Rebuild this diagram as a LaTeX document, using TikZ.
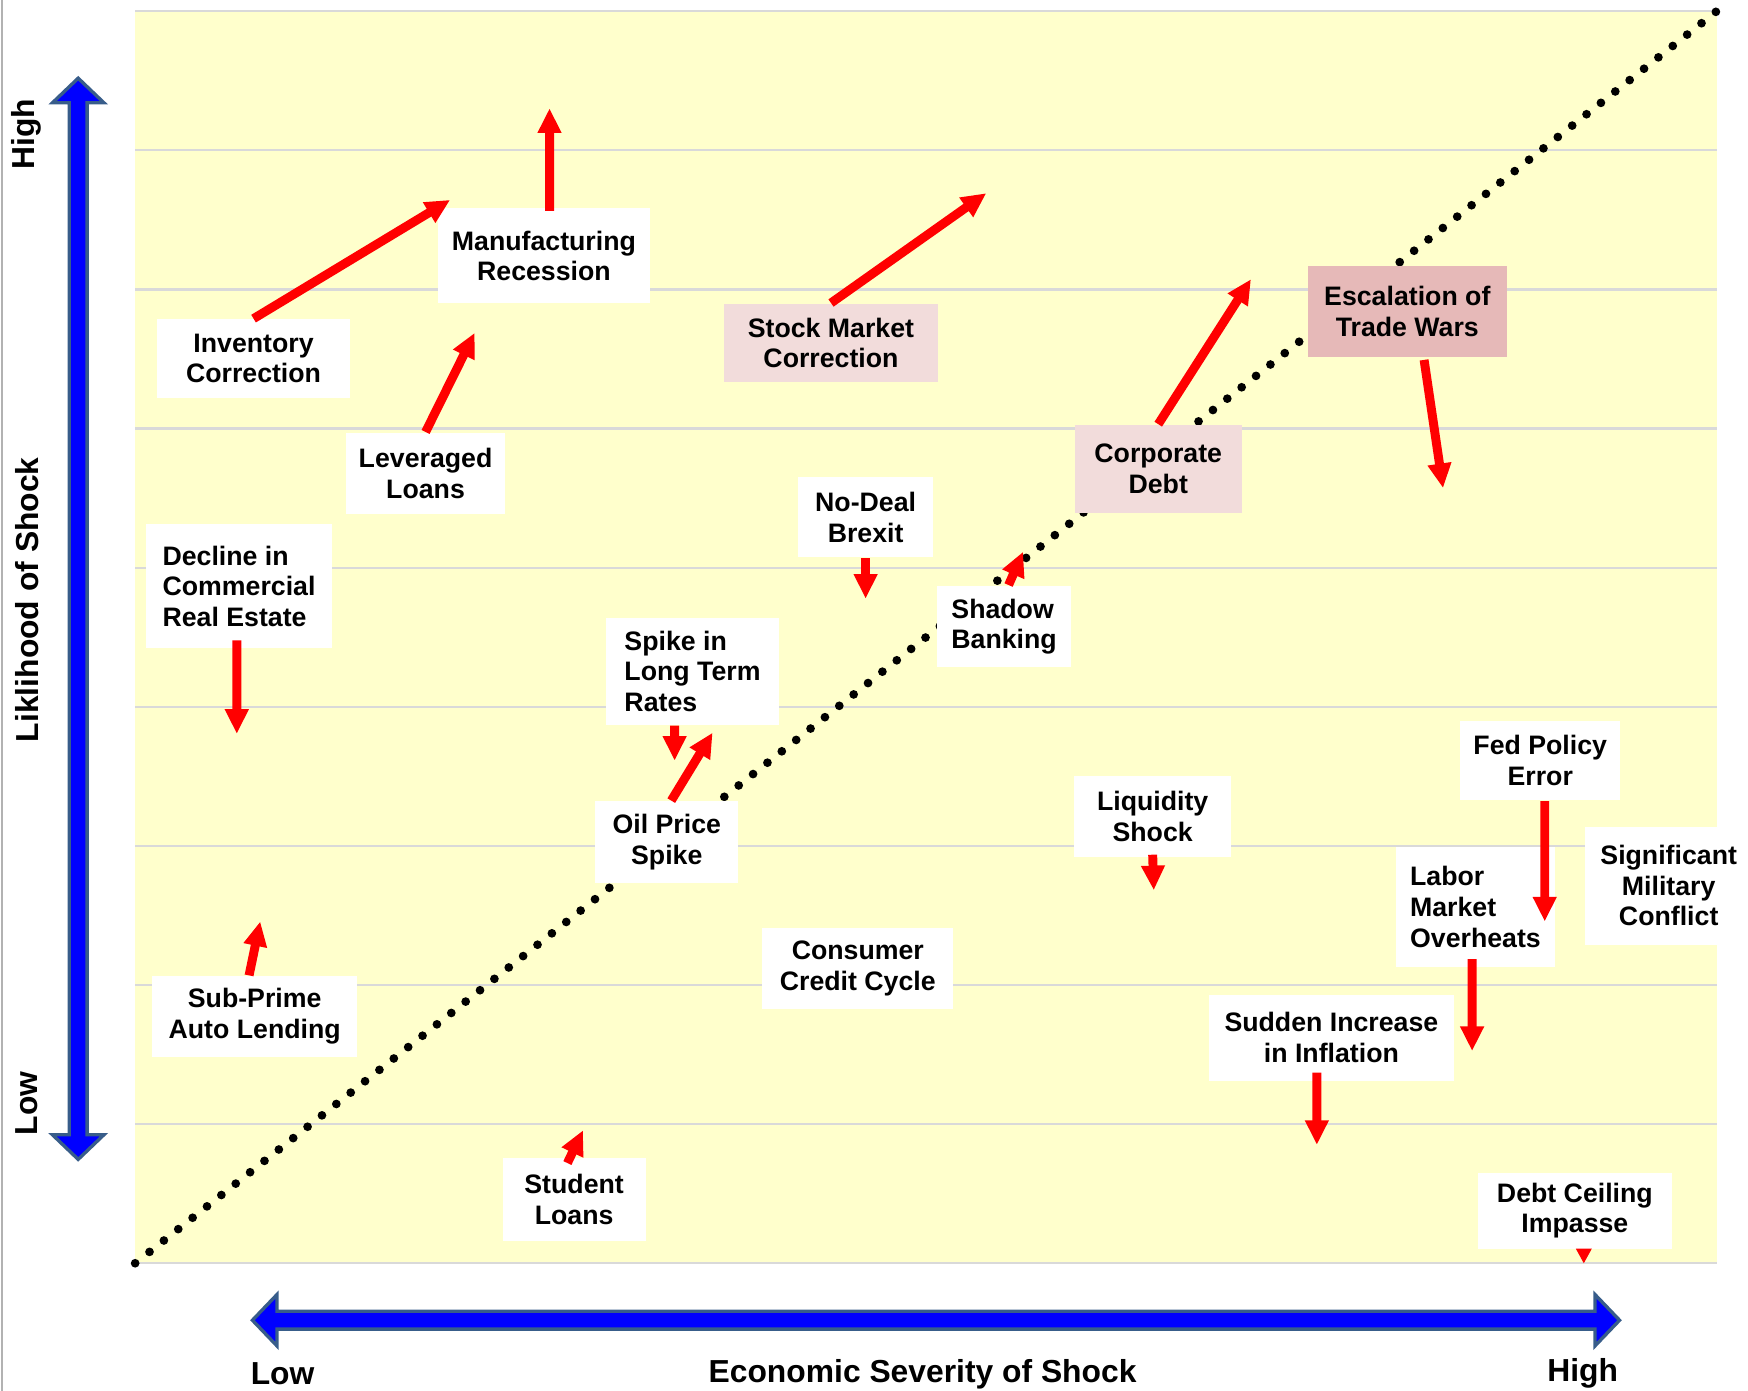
\documentclass[tikz,border=0pt]{standalone}
\usepackage{fontspec}
\setmainfont{Liberation Sans}
\usetikzlibrary{arrows.meta}
\definecolor{plotbg}{RGB}{255,255,204}
\definecolor{gridgray}{RGB}{217,217,217}
\definecolor{lightpink}{RGB}{242,220,219}
\definecolor{darkpink}{RGB}{230,185,184}
\definecolor{axisblue}{RGB}{0,0,255}
\definecolor{axisedge}{RGB}{56,93,138}
\begin{document}
\begin{tikzpicture}[x=0.01cm,y=-0.01cm,
  box/.style={fill=white, inner sep=0pt, align=center, font=\bfseries\fontsize{6.8}{7.8}\selectfont},
  riskarrow/.style={draw=red, line width=0.08cm, -{Triangle[width=0.2cm,length=0.22cm]}},
  axisarrow/.style={fill=axisblue, draw=axisedge, line width=0.03cm, line join=miter},
  axislabel/.style={font=\bfseries\fontsize{8.1}{9.5}\selectfont}]
\useasboundingbox (0,0) rectangle (1565,1245);
\draw[gray!60, line width=0.02cm] (2,0) -- (2,1245);

% plot area
\fill[plotbg] (121,10) rectangle (1537,1131);
\foreach \i in {0,...,9}
  \draw[gridgray, line width=0.02cm] (121,{10+124.56*\i}) -- (1537,{10+124.56*\i});
\draw[line width=0.078cm, line cap=round, dash pattern=on 0pt off 0.164cm] (121,1131) -- (1537,10);

% axes
\filldraw[axisarrow] (70,70) -- (93,92) -- (78,92) -- (78,1016) -- (93,1016) -- (70,1038)
  -- (47,1016) -- (62,1016) -- (62,92) -- (47,92) -- cycle;
\filldraw[axisarrow] (226,1182) -- (248,1159) -- (248,1174) -- (1428,1174) -- (1428,1159)
  -- (1450,1182) -- (1428,1205) -- (1428,1190) -- (248,1190) -- (248,1205) -- cycle;
\node[axislabel, rotate=90] (yhigh) at (24,120) {High};
\node[axislabel, rotate=90] (ytitle) at (24,537) {Liklihood of Shock};
\node[axislabel, rotate=90] (ylow) at (24,988) {Low};
\node[axislabel] (xlow) at (253,1230) {Low};
\node[axislabel] (xtitle) at (826,1230) {Economic Severity of Shock};
\node[axislabel] (xhigh) at (1417,1230) {High};

% risks
\node[box, minimum width=1.72cm, minimum height=0.70cm] (inv) at (227,321) {Inventory\\Correction};
\node[box, minimum width=1.90cm, minimum height=0.85cm] (mfg) at (487,229) {Manufacturing\\Recession};
\node[box, minimum width=1.43cm, minimum height=0.73cm] (lev) at (381,424) {Leveraged\\Loans};
\node[box, align=left, minimum width=1.67cm, minimum height=1.11cm] (cre) at (214,525) {Decline in\\Commercial\\Real Estate};
\node[box, fill=lightpink, minimum width=1.91cm, minimum height=0.70cm] (stock) at (744,307) {Stock Market\\Correction};
\node[box, minimum width=1.21cm, minimum height=0.72cm] (brexit) at (775,463) {No-Deal\\Brexit};
\node[box, align=left, minimum width=1.54cm, minimum height=0.96cm] (spike) at (620,601) {Spike in\\Long Term\\Rates};
\node[box, minimum width=1.28cm, minimum height=0.73cm] (oil) at (597,754) {Oil Price\\Spike};
\node[box, align=left, minimum width=1.20cm, minimum height=0.73cm] (shadow) at (899,561) {Shadow\\Banking};
\node[box, fill=lightpink, minimum width=1.49cm, minimum height=0.79cm] (corp) at (1037,420) {Corporate\\Debt};
\node[box, fill=darkpink, minimum width=1.78cm, minimum height=0.81cm] (trade) at (1260,279) {Escalation of\\Trade Wars};
\node[box, minimum width=1.71cm, minimum height=0.72cm] (consumer) at (768,867) {Consumer\\Credit Cycle};
\node[box, minimum width=1.84cm, minimum height=0.72cm] (subprime) at (228,910) {Sub-Prime\\Auto Lending};
\node[box, minimum width=1.28cm, minimum height=0.74cm] (student) at (514,1074) {Student\\Loans};
\node[box, minimum width=1.41cm, minimum height=0.73cm] (liquidity) at (1032,731) {Liquidity\\Shock};
\node[box, minimum width=1.43cm, minimum height=0.71cm] (fed) at (1379,681) {Fed Policy\\Error};
\node[box, align=left, minimum width=1.42cm, minimum height=1.08cm] (labor) at (1321,812) {Labor\\Market\\Overheats};
\node[box, minimum width=1.50cm, minimum height=1.06cm] (military) at (1494,793) {Significant\\Military\\Conflict};
\node[box, minimum width=2.19cm, minimum height=0.77cm] (inflation) at (1192,929) {Sudden Increase\\in Inflation};
\node[box, minimum width=1.73cm, minimum height=0.68cm] (debt) at (1410,1084) {Debt Ceiling\\Impasse};

% moves
\coordinate (invend) at (403,179);
\coordinate (mfgend) at (492,97);
\coordinate (levend) at (425,298);
\coordinate (creend) at (212,657);
\coordinate (stockend) at (883,173);
\coordinate (brexitend) at (775,536);
\coordinate (spikeend) at (604,681);
\coordinate (oilend) at (638,656);
\coordinate (shadowend) at (916,494);
\coordinate (corpend) at (1120,250);
\coordinate (tradeend) at (1292,437);
\coordinate (liquidityend) at (1033,797);
\coordinate (fedend) at (1383,825);
\coordinate (laborend) at (1318,941);
\coordinate (inflationend) at (1179,1025);
\coordinate (debtend) at (1418,1131);
\coordinate (subprimeend) at (233,825);
\coordinate (studentend) at (522,1012);

\draw[riskarrow] (inv.north) -- (invend);
\draw[riskarrow] ([xshift=0.05cm,yshift=-0.03cm]mfg.north) -- (mfgend);
\draw[riskarrow] (lev.north) -- (levend);
\draw[riskarrow] ([xshift=-0.02cm,yshift=0.08cm]cre.south) -- (creend);
\draw[riskarrow] (stock.north) -- (stockend);
\draw[riskarrow] (brexit.south) -- (brexitend);
\draw[riskarrow] ([xshift=-0.16cm]spike.south) -- (spikeend);
\draw[riskarrow] ([xshift=0.04cm]oil.north) -- (oilend);
\draw[riskarrow] ([xshift=0.04cm]shadow.north) -- (shadowend);
\draw[riskarrow] (corp.north) -- (corpend);
\draw[riskarrow] ([xshift=0.15cm,yshift=-0.02cm]trade.south) -- (tradeend);
\draw[riskarrow] ([yshift=0.03cm]liquidity.south) -- (liquidityend);
\draw[riskarrow] ([xshift=0.04cm]fed.south) -- (fedend);
\draw[riskarrow] ([xshift=-0.03cm,yshift=0.08cm]labor.south) -- (laborend);
\draw[riskarrow] ([xshift=-0.13cm,yshift=0.08cm]inflation.south) -- (inflationend);
\draw[red, line width=0.01cm, -{Triangle[width=0.14cm,length=0.13cm]}] ([xshift=0.08cm]debt.south) -- (debtend);
\draw[riskarrow] ([xshift=-0.05cm]subprime.north) -- (subprimeend);
\draw[riskarrow] ([xshift=-0.06cm,yshift=-0.05cm]student.north) -- (studentend);
\end{tikzpicture}
\end{document}
